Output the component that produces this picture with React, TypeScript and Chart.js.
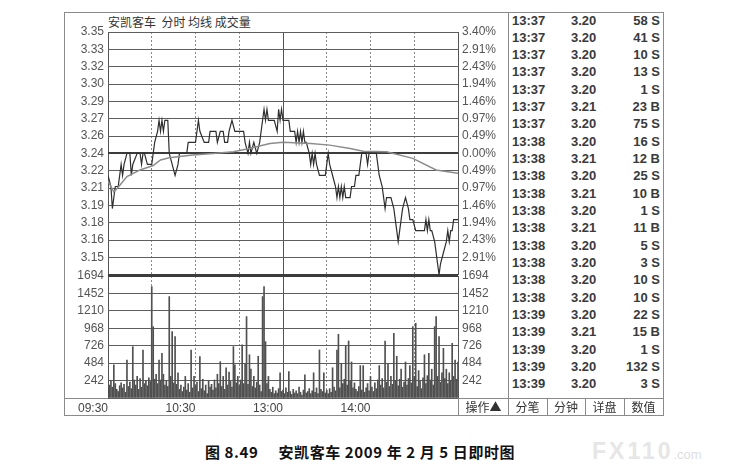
import React, { useEffect, useRef } from 'react';
import { Chart, registerables } from 'chart.js';

Chart.register(...registerables);

const FONT = '"Liberation Sans", Arial, sans-serif';
const CJK = '"Noto Sans CJK SC", "Noto Sans", sans-serif';

// ---- axis tick labels ----
const priceMin = 3.13;
const priceMax = 3.35;
const priceTickLabels = ['3.35', '3.33', '3.32', '3.30', '3.29', '3.27', '3.26', '3.24', '3.22', '3.21', '3.19', '3.18', '3.16', '3.15', ''];
const pctTickLabels = ['3.40%', '2.91%', '2.43%', '1.94%', '1.46%', '0.97%', '0.49%', '0.00%', '0.49%', '0.97%', '1.46%', '1.94%', '2.43%', '2.91%', ''];
const volMax = 1694;
const volTickValues = [0, 242, 484, 726, 968, 1210, 1452, 1694];
const volTickLabels = ['', '242', '484', '726', '968', '1210', '1452', '1694'];
const timeTickMinutes = [0, 30, 60, 90, 120, 150, 180, 210, 240];
const timeTickLabels = ['09:30', '', '10:30', '', '13:00', '', '14:00', '', ''];
const solidTimeTicks = [0, 120, 240];

// ---- price line (minute index, price) ----
const priceMinutes = [0, 2, 3, 4, 5, 7, 8, 9, 10, 11, 13, 15, 16, 17, 20, 22, 23, 24, 25, 27, 30, 31, 32, 34, 35, 36, 37, 38, 39, 41, 42, 44, 46, 48, 49, 54, 55, 60, 62, 63, 66, 69, 70, 74, 75, 77, 79, 80, 82, 83, 85, 87, 93, 94, 96, 97, 98, 100, 102, 104, 106, 107, 108, 109, 110, 114, 116, 117, 118, 119, 120, 124, 125, 128, 129, 130, 131, 132, 133, 134, 135, 136, 138, 139, 140, 141, 142, 143, 145, 149, 150, 151, 152, 154, 156, 157, 158, 159, 160, 161, 162, 163, 166, 167, 169, 170, 172, 173, 174, 177, 178, 179, 184, 185, 186, 188, 190, 191, 194, 196, 197, 199, 200, 202, 204, 206, 207, 209, 211, 217, 218, 219, 220, 221, 222, 224, 226, 227, 228, 230, 232, 233, 234, 235, 236, 237, 240];
const priceValues = [3.22, 3.21, 3.19, 3.20, 3.21, 3.21, 3.22, 3.23, 3.22, 3.23, 3.24, 3.24, 3.22, 3.23, 3.24, 3.24, 3.23, 3.24, 3.24, 3.23, 3.23, 3.24, 3.25, 3.26, 3.27, 3.26, 3.27, 3.26, 3.27, 3.27, 3.24, 3.23, 3.22, 3.23, 3.24, 3.24, 3.25, 3.25, 3.27, 3.26, 3.25, 3.25, 3.26, 3.26, 3.25, 3.26, 3.26, 3.25, 3.25, 3.26, 3.27, 3.26, 3.26, 3.25, 3.24, 3.25, 3.24, 3.25, 3.24, 3.25, 3.27, 3.28, 3.27, 3.28, 3.27, 3.27, 3.26, 3.28, 3.27, 3.28, 3.27, 3.27, 3.26, 3.26, 3.25, 3.26, 3.25, 3.26, 3.25, 3.26, 3.25, 3.25, 3.24, 3.23, 3.24, 3.23, 3.24, 3.23, 3.22, 3.22, 3.23, 3.24, 3.23, 3.22, 3.21, 3.20, 3.21, 3.20, 3.21, 3.20, 3.21, 3.20, 3.20, 3.21, 3.21, 3.22, 3.22, 3.23, 3.24, 3.24, 3.23, 3.24, 3.24, 3.23, 3.22, 3.21, 3.19, 3.20, 3.20, 3.19, 3.18, 3.16, 3.17, 3.19, 3.20, 3.19, 3.18, 3.18, 3.17, 3.17, 3.18, 3.17, 3.18, 3.17, 3.17, 3.16, 3.14, 3.13, 3.14, 3.15, 3.16, 3.17, 3.16, 3.17, 3.17, 3.18, 3.18];

// ---- average price line ----
const avgMinutes = [0, 4, 8, 13, 22, 31, 36, 42, 58, 72, 86, 97, 111, 120, 139, 152, 166, 175, 191, 209, 225, 240];
const avgValues = [3.215, 3.205, 3.211, 3.219, 3.225, 3.229, 3.234, 3.236, 3.2385, 3.240, 3.2415, 3.2445, 3.249, 3.250, 3.249, 3.2475, 3.2445, 3.242, 3.2415, 3.2355, 3.225, 3.222];

// ---- volume per minute (0..240) ----
const volumes = [
  260, 180, 240, 150, 459, 200, 120, 90, 170, 210,
  140, 190, 80, 528, 160, 220, 130, 713, 250, 180,
  300, 120, 270, 150, 667, 200, 240, 170, 280, 230,
  1547, 991, 260, 330, 200, 528, 250, 621, 330, 180,
  240, 160, 1408, 300, 922, 210, 852, 190, 350, 120,
  180, 90, 150, 300, 110, 200, 80, 667, 140, 300,
  170, 220, 90, 574, 130, 260, 100, 180, 60, 240,
  150, 190, 110, 250, 140, 330, 200, 505, 160, 300,
  120, 420, 180, 360, 230, 150, 713, 460, 210, 300,
  170, 250, 737, 200, 480, 1130, 190, 600, 400, 160,
  300, 140, 220, 580, 180, 90, 1408, 1547, 783, 200,
  300, 120, 80, 150, 60, 100, 70, 130, 350, 90,
  110, 60, 140, 80, 366, 90, 50, 120, 70, 100,
  60, 150, 80, 40, 110, 320, 70, 90, 130, 60,
  100, 350, 80, 140, 60, 667, 120, 90, 350, 70,
  110, 60, 130, 80, 420, 150, 100, 667, 885, 140,
  480, 200, 260, 720, 180, 792, 230, 500, 140, 210,
  120, 90, 160, 450, 110, 450, 80, 140, 200, 100,
  300, 150, 90, 210, 130, 250, 450, 180, 270, 140,
  792, 220, 480, 160, 300, 190, 899, 240, 580, 170,
  260, 400, 150, 220, 500, 180, 270, 450, 210, 991,
  300, 1038, 160, 380, 240, 130, 280, 600, 200, 310,
  620, 250, 400, 180, 991, 1130, 300, 852, 220, 350,
  690, 270, 400, 200, 350, 240, 760, 300, 528, 260,
  500,
];

// ---- tick-by-tick table ----
const tradeTimes = ['13:37', '13:37', '13:37', '13:37', '13:37', '13:37', '13:37', '13:38', '13:38', '13:38', '13:38', '13:38', '13:38', '13:38', '13:38', '13:38', '13:38', '13:39', '13:39', '13:39', '13:39', '13:39'];
const tradePrices = ['3.20', '3.20', '3.20', '3.20', '3.20', '3.21', '3.20', '3.20', '3.21', '3.20', '3.21', '3.20', '3.21', '3.20', '3.20', '3.20', '3.20', '3.20', '3.21', '3.20', '3.20', '3.20'];
const tradeVolumes = [58, 41, 10, 13, 1, 23, 75, 16, 12, 25, 10, 1, 11, 5, 3, 10, 10, 22, 15, 1, 132, 3];
const tradeSides = ['S', 'S', 'S', 'S', 'S', 'B', 'S', 'S', 'B', 'S', 'B', 'S', 'B', 'S', 'S', 'S', 'S', 'S', 'B', 'S', 'S', 'S'];
const tabButtons = ['分笔', '分钟', '详盘', '数值'];

const priceStep = (priceMax - priceMin) / 14;

const xGridDash = (ctx: any) => (solidTimeTicks.includes(ctx.tick?.value) ? [] : [2, 2]);
const xGridColor = (ctx: any) => (solidTimeTicks.includes(ctx.tick?.value) ? '#555' : '#888');

function App() {
  const priceRef = useRef<HTMLCanvasElement>(null);
  const volRef = useRef<HTMLCanvasElement>(null);

  useEffect(() => {
    Chart.defaults.font.family = FONT;
    const tickFont = { size: 12, family: FONT };
    const priceAxisTicks = (s: any) => {
      s.ticks = priceTickLabels.map((_, i) => ({ value: priceMin + i * priceStep }));
    };
    const priceGridColor = (ctx: any) => (ctx.index === 7 || ctx.index === 0 ? '#3c3c3c' : '#5e5e5e');
    const priceGridWidth = (ctx: any) => (ctx.index === 7 || ctx.index === 0 ? 2 : 1);

    const priceChart = new Chart(priceRef.current!, {
      type: 'line',
      data: {
        datasets: [
          {
            label: '均线',
            data: avgMinutes.map((m, i) => ({ x: m, y: avgValues[i] })),
            borderColor: '#8c8c8c',
            borderWidth: 1.5,
            pointRadius: 0,
            tension: 0,
            yAxisID: 'y',
          },
          {
            label: '分时',
            data: priceMinutes.map((m, i) => ({ x: m, y: priceValues[i] })),
            borderColor: '#2e2e2e',
            borderWidth: 1.2,
            pointRadius: 0,
            tension: 0,
            yAxisID: 'y',
          },
        ],
      },
      options: {
        animation: false,
        responsive: false,
        events: [],
        layout: { padding: { top: 20, bottom: 10, left: 0, right: 0 } },
        plugins: { legend: { display: false }, tooltip: { enabled: false } },
        scales: {
          x: {
            type: 'linear',
            min: 0,
            max: 240,
            afterBuildTicks: (s: any) => {
              s.ticks = timeTickMinutes.map((v) => ({ value: v }));
            },
            ticks: { display: false },
            grid: { color: xGridColor, lineWidth: 1, drawTicks: false },
            border: { display: false, dash: xGridDash },
            afterFit: (s: any) => {
              s.height = 0;
            },
          },
          y: {
            position: 'left',
            min: priceMin,
            max: priceMax,
            afterBuildTicks: priceAxisTicks,
            ticks: {
              autoSkip: false,
              padding: 4,
              color: '#555',
              font: tickFont,
              callback: (_v: any, i: number) => priceTickLabels[14 - i],
            },
            grid: { color: priceGridColor, lineWidth: priceGridWidth, drawTicks: false },
            border: { display: false },
            afterFit: (s: any) => {
              s.width = 44;
            },
          },
          y2: {
            position: 'right',
            min: priceMin,
            max: priceMax,
            afterBuildTicks: priceAxisTicks,
            ticks: {
              autoSkip: false,
              padding: 4,
              color: '#555',
              font: tickFont,
              callback: (_v: any, i: number) => pctTickLabels[14 - i],
            },
            grid: { drawOnChartArea: false, drawTicks: false },
            border: { display: false },
            afterFit: (s: any) => {
              s.width = 50;
            },
          },
        },
      } as any,
    });

    const volAxisTicks = (s: any) => {
      s.ticks = volTickValues.map((v) => ({ value: v }));
    };
    const volGridColor = (ctx: any) => (ctx.index === 7 ? '#3c3c3c' : '#5e5e5e');
    const volGridWidth = (ctx: any) => (ctx.index === 7 ? 2 : 1);

    const volChart = new Chart(volRef.current!, {
      type: 'bar',
      data: {
        datasets: [
          {
            label: '成交量',
            data: volumes.map((v, i) => ({ x: i, y: v })),
            backgroundColor: '#505050',
            barThickness: 1,
            yAxisID: 'yv',
          },
        ],
      },
      options: {
        animation: false,
        responsive: false,
        events: [],
        layout: { padding: { top: 14, bottom: 0, left: 0, right: 0 } },
        plugins: { legend: { display: false }, tooltip: { enabled: false } },
        scales: {
          x: {
            type: 'linear',
            min: 0,
            max: 240,
            offset: false,
            afterBuildTicks: (s: any) => {
              s.ticks = timeTickMinutes.map((v) => ({ value: v }));
            },
            ticks: {
              autoSkip: false,
              maxRotation: 0,
              align: 'end',
              padding: 3,
              color: '#444',
              font: tickFont,
              callback: (_v: any, i: number) => timeTickLabels[i],
            },
            grid: { color: xGridColor, lineWidth: 1, drawTicks: false, offset: false },
            border: { display: false, dash: xGridDash },
            afterFit: (s: any) => {
              s.height = 17;
            },
          },
          yv: {
            position: 'left',
            min: 0,
            max: volMax,
            afterBuildTicks: volAxisTicks,
            ticks: {
              autoSkip: false,
              padding: 4,
              color: '#555',
              font: tickFont,
              callback: (_v: any, i: number) => volTickLabels[i],
            },
            grid: { color: volGridColor, lineWidth: volGridWidth, drawTicks: false },
            border: { display: false },
            afterFit: (s: any) => {
              s.width = 44;
            },
          },
          yv2: {
            position: 'right',
            min: 0,
            max: volMax,
            afterBuildTicks: volAxisTicks,
            ticks: {
              autoSkip: false,
              padding: 4,
              color: '#555',
              font: tickFont,
              callback: (_v: any, i: number) => volTickLabels[i],
            },
            grid: { drawOnChartArea: false, drawTicks: false },
            border: { display: false },
            afterFit: (s: any) => {
              s.width = 50;
            },
          },
        },
      } as any,
    });

    return () => {
      priceChart.destroy();
      volChart.destroy();
    };
  }, []);

  const line = (left: number, top: number, width: number, height: number, color = '#8a8a8a') => (
    <div style={{ position: 'absolute', left, top, width, height, background: color }} />
  );

  const rowH = 17.33;
  const tableText: React.CSSProperties = {
    position: 'absolute',
    font: `bold 13px ${FONT}`,
    color: '#3a3a3a',
    lineHeight: '17px',
    whiteSpace: 'pre',
  };
  const btnLefts = [508, 547, 585, 624];
  const btnWidths = [39, 38, 39, 39];

  return (
    <div style={{ position: 'absolute', left: 0, top: 0, width: 743, height: 475, background: '#fff', overflow: 'hidden' }}>
      {/* outer frame */}
      <div style={{ position: 'absolute', left: 64, top: 12, width: 600, height: 404, border: '1px solid #8a8a8a', boxSizing: 'border-box' }} />
      {line(508, 12, 1, 404)}
      {line(64, 398, 600, 1)}
      {line(458, 398, 1, 17)}
      {line(547, 398, 1, 17)}
      {line(585, 398, 1, 17)}
      {line(624, 398, 1, 17)}

      <div style={{ position: 'absolute', left: 108, top: 13, font: `12px ${CJK}`, color: '#333', lineHeight: '18px', whiteSpace: 'pre' }}>
        安凯客车  分时 均线 成交量
      </div>

      <canvas ref={priceRef} width={444} height={274} style={{ position: 'absolute', left: 64, top: 12, width: 444, height: 274 }} />
      <canvas ref={volRef} width={444} height={153} style={{ position: 'absolute', left: 64, top: 262, width: 444, height: 153 }} />

      {/* trade table */}
      {tradeTimes.map((t, i) => (
        <React.Fragment key={i}>
          <div style={{ ...tableText, left: 512, top: 11.5 + i * rowH }}>{t}</div>
          <div style={{ ...tableText, left: 571, top: 11.5 + i * rowH }}>{tradePrices[i]}</div>
          <div style={{ ...tableText, left: 600, width: 60, textAlign: 'right', top: 11.5 + i * rowH }}>
            {`${tradeVolumes[i]} ${tradeSides[i]}`}
          </div>
        </React.Fragment>
      ))}

      <div style={{ position: 'absolute', left: 459, top: 399, width: 49, height: 16, font: `12px ${CJK}`, color: '#333', lineHeight: '16px', textAlign: 'center' }}>
        操作▲
      </div>
      {tabButtons.map((b, i) => (
        <div key={b} style={{ position: 'absolute', left: btnLefts[i], top: 399, width: btnWidths[i], height: 16, font: `12px ${CJK}`, color: '#333', lineHeight: '16px', textAlign: 'center' }}>
          {b}
        </div>
      ))}

      {/* caption */}
      <div style={{ position: 'absolute', left: 205, top: 441, font: `bold 15px ${CJK}`, color: '#111', lineHeight: '22px', whiteSpace: 'pre', letterSpacing: 0.6 }}>
        {'图 8.49     安凯客车 2009 年 2 月 5 日即时图'}
      </div>
      <div style={{ position: 'absolute', left: 592, top: 438, color: '#e6e6e6', whiteSpace: 'pre', lineHeight: '28px' }}>
        <span style={{ font: `bold 23px ${FONT}`, letterSpacing: 3 }}>FX110</span>
        <span style={{ font: `13px ${FONT}`, color: '#dedede' }}>.com</span>
      </div>
    </div>
  );
}

export default App;
